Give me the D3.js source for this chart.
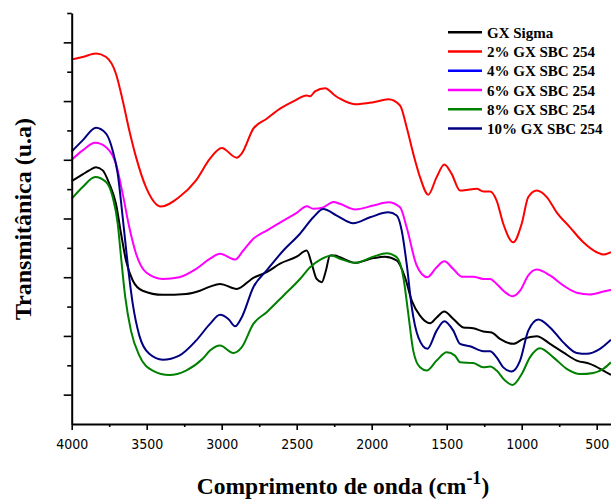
<!DOCTYPE html>
<html>
<head>
<meta charset="utf-8">
<script src="https://cdn.jsdelivr.net/npm/d3@7"></script>
<style>
  body { margin: 0; background: #fff; }
  svg { display: block; }
  .tick-label { font-family: "DejaVu Sans Condensed", "Liberation Sans", sans-serif; font-size: 14px; fill: #000; }
  .serif-bold { font-family: "Liberation Serif", "Times New Roman", serif; font-weight: bold; fill: #000; }
</style>
</head>
<body>
<svg id="chart" width="611" height="500"></svg>
<script>
// FTIR spectra, [wavenumber (cm-1), transmittance (arbitrary units)]
const gxSigma = [
  [4000,8.27],[3927,8.50],[3883,8.64],[3838,8.75],[3793,8.64],[3749,8.18],[3705,7.50],[3671,6.48],
  [3638,5.57],[3593,4.89],[3527,4.54],[3393,4.40],[3238,4.43],[3145,4.54],[3078,4.68],[3011,4.77],
  [2900,4.60],[2789,4.98],[2700,5.17],[2611,5.46],[2500,5.70],[2433,5.91],[2400,5.46],[2367,4.94],
  [2333,4.83],[2305,5.23],[2278,5.74],[2245,5.74],[2211,5.68],[2111,5.49],[1989,5.65],[1911,5.70],
  [1833,5.57],[1778,5.00],[1733,4.20],[1678,3.69],[1611,3.43],[1567,3.63],[1516,3.83],[1456,3.58],
  [1389,3.29],[1323,3.26],[1256,3.15],[1200,3.12],[1145,2.90],[1056,2.73],[989,2.90],[900,2.99],
  [811,2.73],[723,2.44],[633,2.16],[545,2.05],[456,1.82],[405,1.67]
];
const sbc2 = [
  [4000,12.42],[3927,12.50],[3838,12.62],[3771,12.50],[3705,11.93],[3660,11.02],[3616,10.00],[3571,9.09],
  [3505,8.07],[3405,7.41],[3283,7.73],[3171,8.30],[3078,9.04],[3000,9.40],[2900,9.07],[2867,9.21],
  [2789,10.06],[2700,10.40],[2611,10.74],[2523,10.99],[2433,11.19],[2411,11.16],[2378,11.33],[2311,11.44],
  [2245,11.19],[2211,11.08],[2111,10.89],[1989,10.96],[1889,11.06],[1811,10.85],[1767,10.11],[1723,9.21],
  [1678,8.41],[1623,7.81],[1567,8.41],[1516,8.84],[1467,8.52],[1411,7.95],[1345,7.99],[1300,8.01],
  [1256,7.92],[1211,7.92],[1167,7.61],[1123,6.82],[1056,6.19],[1000,6.82],[956,7.73],[900,7.95],
  [833,7.73],[767,7.21],[678,6.70],[589,6.19],[500,5.85],[456,5.77],[405,5.85]
];
const sbc6 = [
  [4000,9.00],[3927,9.32],[3843,9.58],[3771,9.43],[3705,8.86],[3660,7.84],[3616,6.70],[3571,5.80],
  [3505,5.17],[3393,4.94],[3283,5.00],[3171,5.28],[3078,5.63],[3011,5.80],[2911,5.60],[2856,5.91],
  [2789,6.31],[2700,6.59],[2589,6.93],[2500,7.19],[2433,7.42],[2389,7.33],[2323,7.38],[2256,7.56],
  [2211,7.50],[2111,7.31],[1989,7.44],[1889,7.55],[1811,7.38],[1767,6.70],[1700,5.40],[1629,5.00],
  [1567,5.34],[1516,5.54],[1456,5.28],[1400,5.02],[1323,5.02],[1256,4.94],[1211,4.94],[1167,4.77],
  [1111,4.49],[1060,4.35],[1011,4.54],[956,5.06],[900,5.26],[811,5.06],[723,4.72],[633,4.47],
  [545,4.41],[456,4.51],[405,4.57]
];
const sbc8 = [
  [4000,7.67],[3927,8.07],[3843,8.41],[3771,8.24],[3727,7.73],[3693,6.82],[3671,5.68],[3643,4.32],
  [3605,3.18],[3549,2.33],[3460,1.82],[3349,1.67],[3238,1.82],[3127,2.22],[3078,2.50],[3011,2.67],
  [2923,2.42],[2867,2.61],[2789,3.41],[2700,3.81],[2589,4.37],[2478,4.94],[2411,5.34],[2345,5.59],
  [2267,5.74],[2211,5.63],[2111,5.49],[1989,5.70],[1900,5.82],[1833,5.68],[1789,5.00],[1756,3.75],
  [1723,2.50],[1678,1.93],[1633,1.82],[1567,2.16],[1500,2.44],[1445,2.33],[1411,2.10],[1323,2.08],
  [1256,1.93],[1211,1.96],[1167,1.82],[1111,1.48],[1060,1.33],[1000,1.70],[945,2.27],[878,2.58],
  [789,2.27],[700,1.88],[611,1.70],[523,1.74],[456,1.88],[405,2.10]
];
const sbc10 = [
  [4000,9.28],[3927,9.66],[3838,10.09],[3771,9.89],[3727,9.32],[3693,8.52],[3660,7.04],[3627,5.46],
  [3593,4.09],[3549,3.01],[3483,2.39],[3393,2.19],[3283,2.33],[3171,2.84],[3078,3.41],[3011,3.72],
  [2956,3.58],[2911,3.33],[2867,3.63],[2789,4.66],[2700,5.23],[2589,5.91],[2478,6.48],[2389,7.04],
  [2323,7.32],[2233,7.10],[2123,6.84],[2011,7.04],[1889,7.21],[1833,7.10],[1800,6.59],[1767,5.46],
  [1733,3.98],[1689,2.95],[1629,2.56],[1567,3.18],[1516,3.50],[1456,3.18],[1411,2.73],[1345,2.65],
  [1256,2.48],[1211,2.48],[1167,2.27],[1123,1.93],[1067,1.79],[1011,2.16],[956,3.18],[889,3.56],
  [811,3.29],[723,2.78],[633,2.42],[567,2.39],[478,2.56],[405,2.87]
];

const seriesNames  = ["GX Sigma", "2% GX SBC 254", "4% GX SBC 254", "6% GX SBC 254", "8% GX SBC 254", "10% GX SBC 254"];
const seriesColors = ["#000000", "#ff0000", "#0000ff", "#ff00ff", "#008000", "#000080"];
const seriesData   = [gxSigma, sbc2, null, sbc6, sbc8, sbc10];

const xMajorTicks = [4000, 3500, 3000, 2500, 2000, 1500, 1000, 500];
const xMinorTicks = [3750, 3250, 2750, 2250, 1750, 1250, 750];
const yMajorTicks = [1, 3, 5, 7, 9, 11, 13];
const yMinorTicks = [2, 4, 6, 8, 10, 12, 14];

const svg = d3.select("#chart");
const x = d3.scaleLinear().domain([4000, 400]).range([71.7, 611.7]);
const y = d3.scaleLinear().domain([0, 14]).range([424, 13]);

// spectra
const line = d3.line()
  .x(d => x(d[0]))
  .y(d => y(d[1]))
  .curve(d3.curveMonotoneX);

const plot = svg.append("g");
seriesData.forEach((data, i) => {
  if (!data) return;
  plot.append("path")
    .datum(data)
    .attr("fill", "none")
    .attr("stroke", seriesColors[i])
    .attr("stroke-width", 2)
    .attr("stroke-linejoin", "round")
    .attr("d", line);
});

// x axis
const xAxisG = svg.append("g").attr("transform", `translate(0,${y(0)})`);
xAxisG.call(d3.axisBottom(x).tickValues(xMajorTicks).tickSize(6).tickSizeOuter(0).tickPadding(9).tickFormat(d3.format("d")));
const xMinorG = svg.append("g").attr("transform", `translate(0,${y(0)})`);
xMinorG.call(d3.axisBottom(x).tickValues(xMinorTicks).tickSize(3).tickSizeOuter(0).tickFormat(""));
xMinorG.select(".domain").remove();

// y axis
const yAxisG = svg.append("g").attr("transform", `translate(${x(4000)},0)`);
yAxisG.call(d3.axisLeft(y).tickValues(yMajorTicks).tickSize(8).tickSizeOuter(0).tickFormat(""));
const yMinorG = svg.append("g").attr("transform", `translate(${x(4000)},0)`);
yMinorG.call(d3.axisLeft(y).tickValues(yMinorTicks).tickSize(4.5).tickSizeOuter(0).tickFormat(""));
yMinorG.select(".domain").remove();

svg.selectAll(".domain").attr("stroke", "#000").attr("stroke-width", 2);
svg.selectAll(".tick line").attr("stroke", "#000").attr("stroke-width", 1.6);
xAxisG.selectAll(".tick text").attr("class", "tick-label").attr("font-family", null).attr("font-size", null);

// axis titles
const xTitle = svg.append("text")
  .attr("class", "serif-bold")
  .attr("x", 343)
  .attr("y", 494)
  .attr("text-anchor", "middle")
  .style("font-size", "23.5px");
xTitle.append("tspan").text("Comprimento de onda (cm");
xTitle.append("tspan").attr("dy", -10).style("font-size", "18px").text("-1");
xTitle.append("tspan").attr("dy", 10).text(")");

svg.append("text")
  .attr("class", "serif-bold")
  .attr("transform", "translate(31,219) rotate(-90)")
  .attr("text-anchor", "middle")
  .style("font-size", "24px")
  .text("Transmitânica (u.a)");

// legend
const legend = svg.append("g").attr("transform", "translate(448,32.3)");
seriesNames.forEach((name, i) => {
  const row = legend.append("g").attr("transform", `translate(0,${i * 19.25})`);
  row.append("line")
    .attr("x1", 0).attr("x2", 34)
    .attr("y1", 0).attr("y2", 0)
    .attr("stroke", seriesColors[i])
    .attr("stroke-width", 2.5);
  row.append("text")
    .attr("class", "serif-bold")
    .attr("x", 39)
    .attr("y", 5.5)
    .style("font-size", "15px")
    .text(name);
});
</script>
</body>
</html>
